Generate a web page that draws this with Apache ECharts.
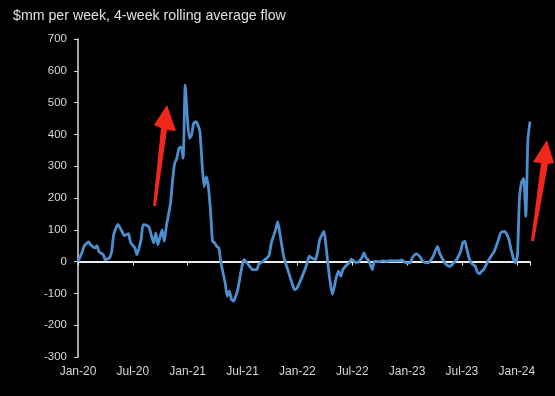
<!DOCTYPE html>
<html>
<head>
<meta charset="utf-8">
<script src="https://cdn.jsdelivr.net/npm/echarts@6/dist/echarts.min.js"></script>
<style>
html,body{margin:0;padding:0;background:#000;}
#c{width:555px;height:396px;}
</style>
</head>
<body>
<div id="c"></div>
<script>
// weeks since first week of Jan 2020
var weeks = [0,2,3,5,6,8,9,10,12,13,15,16,17,19,21,22,24,25,27,28,30,31,33,34,35,36,37,38,40,41,42,44,45,46,47,48,49,50,51,52,53,54,55,56,57,58,59,60,61,62,63,64,65,66,67,68,70,71,72,73,74,75,76,77,78,79,81,83,85,86,88,90,91,92,94,95,96,97,98,100,102,103,104,105,107,109,110,111,113,114,115,117,118,119,120,121,122,123,124,125,126,128,129,130,132,133,135,136,137,138,139,140,141,143,145,147,149,151,153,154,156,158,159,161,163,164,166,167,169,171,172,174,175,177,178,180,182,183,184,185,186,187,189,190,191,192,193,195,197,198,200,201,203,204,205,206,207,208,209,210,211,212,213,214,215];
// $mm per week, 4-week rolling average flow
var flows = [0,30,50,62,53,43,50,31,22,6,12,31,85,117,94,82,88,60,44,22,69,116,113,105,80,59,90,53,100,64,110,184,257,309,325,356,361,325,555,455,388,398,435,440,430,408,309,236,267,236,163,64,59,48,43,-4,-67,-109,-93,-119,-124,-109,-88,-51,-15,6,-9,-25,-25,-9,1,12,22,59,100,126,90,48,12,-30,-72,-88,-85,-72,-41,-5,17,12,6,32,69,95,48,-15,-67,-103,-77,-46,-30,-46,-25,-9,-4,8,-2,-2,12,27,12,6,-9,-25,1,0,2,1,3,2,3,5,-4,-4,12,24,12,1,-4,-2,17,48,27,1,-9,-15,-9,6,32,59,64,38,12,-4,-15,-34,-38,-30,-25,1,22,32,69,90,95,85,69,38,12,-4,17,200,250,262,142,382,440];
var tickLabels = ['Jan-20','Jul-20','Jan-21','Jul-21','Jan-22','Jul-22','Jan-23','Jul-23','Jan-24'];
var halfYearWeeks = 26.09;
var title = '$mm per week, 4-week rolling average flow';

var data = weeks.map(function(w,i){return [w, flows[i]];});
var chart = echarts.init(document.getElementById('c'));
var txt = '#d6d6d6';
function fmt(v){
  var i = Math.round(v/halfYearWeeks);
  if (Math.abs(v - i*halfYearWeeks) > 0.5 || i < 0 || i >= tickLabels.length) return '';
  return tickLabels[i];
}
chart.setOption({
  backgroundColor:'#000',
  animation:false,
  title:{text:title,left:8,top:4,textStyle:{color:'#e0e0e0',fontSize:14.2,fontWeight:'normal',fontFamily:'Liberation Sans'}},
  grid:{left:78,right:25,top:39,bottom:39},
  xAxis:[{
    type:'value',min:0,max:215,interval:halfYearWeeks,position:'bottom',
    axisLine:{show:false,onZero:false},axisTick:{show:false},splitLine:{show:false},
    axisLabel:{color:txt,fontSize:12,fontFamily:'Liberation Sans',margin:9,formatter:fmt,showMaxLabel:false}
  },{
    type:'value',min:0,max:215,interval:halfYearWeeks,position:'top',
    axisLine:{show:true,onZero:true,lineStyle:{color:'#ececec',width:2}},
    axisTick:{show:true,inside:true,length:4,lineStyle:{color:'#ececec',width:1}},
    axisLabel:{show:false},splitLine:{show:false}
  }],
  yAxis:{
    type:'value',min:-300,max:700,interval:100,
    axisLine:{show:true,lineStyle:{color:'#d8d8d8',width:1.5}},
    axisTick:{show:true,length:4,lineStyle:{color:'#d8d8d8'}},
    splitLine:{show:false},
    axisLabel:{color:txt,fontSize:11.5,fontFamily:'Liberation Sans',margin:11}
  },
  series:[{
    type:'line',data:data,xAxisIndex:0,showSymbol:false,smooth:0.2,
    lineStyle:{color:'#4b8fd1',width:2.8},itemStyle:{color:'#4b8fd1'}
  }],
  graphic:[
    {type:'polygon',shape:{points:[[153,206],[156,206],[167,130],[176,131],[167,105],[154,125],[161,128]]},style:{fill:'#f0281c'}},
    {type:'polygon',shape:{points:[[531,241],[534,241],[548,164],[554,163],[547,140],[533,162],[541,163]]},style:{fill:'#f0281c'}}
  ]
});
</script>
</body>
</html>
